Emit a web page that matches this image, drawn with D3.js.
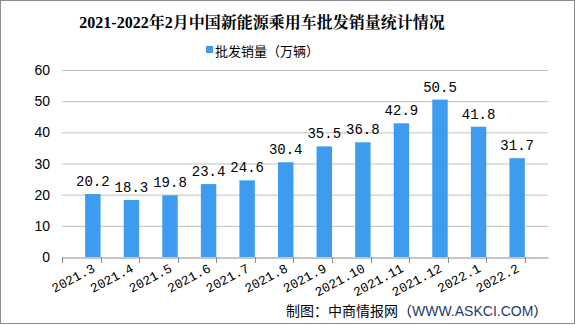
<!DOCTYPE html>
<html>
<head>
<meta charset="utf-8">
<script src="https://cdn.jsdelivr.net/npm/d3@7"></script>
<style>
body { margin: 0; background: #fff; }
svg { display: block; }
</style>
</head>
<body>
<svg class="mainsvg" width="575" height="325"></svg>
<script>
var months = ['2021.3', '2021.4', '2021.5', '2021.6', '2021.7', '2021.8', '2021.9', '2021.10', '2021.11', '2021.12', '2022.1', '2022.2'];
var sales = [20.2, 18.3, 19.8, 23.4, 24.6, 30.4, 35.5, 36.8, 42.9, 50.5, 41.8, 31.7];
var yTicks = [0, 10, 20, 30, 40, 50, 60];

var _width = 575, _height = 325;
var svg = d3.select('.mainsvg');

// frame
svg.append('rect')
	.attr('x', 0.5).attr('y', 0.5)
	.attr('width', _width - 1).attr('height', _height - 2)
	.attr('fill', 'white')
	.attr('stroke', '#8c8c8c');

var x = d3.scaleBand().domain(months).range([62, 548]).padding(0.6);
var y = d3.scaleLinear().domain([0, 60]).range([257, 70]);

// gridlines
svg.append('g')
	.selectAll('line')
	.data(yTicks.slice(1))
	.join('line')
	.attr('x1', 62).attr('x2', 548)
	.attr('y1', function(d){ return y(d) + 0.5; })
	.attr('y2', function(d){ return y(d) + 0.5; })
	.attr('stroke', '#bfbfbf');

// y labels
svg.append('g')
	.selectAll('text')
	.data(yTicks)
	.join('text')
	.attr('x', 50)
	.attr('y', function(d){ return y(d) + 5; })
	.attr('text-anchor', 'end')
	.attr('font-family', 'Liberation Sans, Arial, sans-serif')
	.attr('font-size', '14px')
	.attr('fill', '#000')
	.text(function(d){ return d; });

// bars
svg.append('g')
	.selectAll('rect')
	.data(sales)
	.join('rect')
	.attr('x', function(d, i){ return x(months[i]); })
	.attr('y', function(d){ return y(d); })
	.attr('width', x.bandwidth())
	.attr('height', function(d){ return y(0) - y(d); })
	.attr('fill', '#3d9cf0');

// value labels
svg.append('g')
	.selectAll('text')
	.data(sales)
	.join('text')
	.attr('x', function(d, i){ return x(months[i]) + x.bandwidth() / 2; })
	.attr('y', function(d){ return y(d) - 8; })
	.attr('text-anchor', 'middle')
	.attr('font-family', 'Liberation Mono, monospace')
	.attr('font-size', '14px')
	.attr('fill', '#000')
	.text(function(d){ return d.toFixed(1); });

// x axis
var xAxis = d3.axisBottom(x).tickSize(0).tickFormat('');
svg.append('g')
	.attr('transform', 'translate(0,' + (y(0) + 0.5) + ')')
	.call(xAxis)
	.call(function(g){ g.select('.domain').attr('stroke', '#8c8c8c'); });

var step = x.step();
svg.append('g')
	.selectAll('line')
	.data(d3.range(months.length + 1))
	.join('line')
	.attr('x1', function(i){ return Math.round(62 + i * step) + 0.5; })
	.attr('x2', function(i){ return Math.round(62 + i * step) + 0.5; })
	.attr('y1', y(0)).attr('y2', y(0) + 6)
	.attr('stroke', '#8c8c8c');

// x labels
svg.append('g')
	.selectAll('text')
	.data(months)
	.join('text')
	.attr('transform', function(d){
		return 'translate(' + (x(d) + x.bandwidth() / 2 + 3) + ',' + 271 + ') rotate(-28)';
	})
	.attr('text-anchor', 'end')
	.attr('font-family', 'Liberation Mono, monospace')
	.attr('font-size', '13px')
	.attr('fill', '#000')
	.text(function(d){ return d; });

// title
svg.append('text')
	.attr('x', 262)
	.attr('y', 28)
	.attr('text-anchor', 'middle')
	.attr('font-family', 'Liberation Serif, Noto Serif CJK SC, Noto Sans CJK SC, serif')
	.attr('font-size', '16px')
	.attr('font-weight', 'bold')
	.attr('fill', '#000')
	.text('2021-2022年2月中国新能源乘用车批发销量统计情况');

// legend
svg.append('rect')
	.attr('x', 206).attr('y', 46)
	.attr('width', 7).attr('height', 7)
	.attr('fill', '#3d9cf0');
svg.append('text')
	.attr('x', 215)
	.attr('y', 56)
	.attr('font-family', 'Noto Sans CJK SC, sans-serif')
	.attr('font-size', '13px')
	.attr('fill', '#000')
	.text('批发销量（万辆）');

// source
var src = svg.append('text')
	.attr('x', 286)
	.attr('y', 316)
	.attr('font-family', 'Noto Sans CJK SC, sans-serif')
	.attr('font-size', '14px')
	.attr('fill', '#000');
src.append('tspan').text('制图：中商情报网（');
src.append('tspan').attr('fill', '#1f3a6e').attr('font-family', 'Liberation Sans, Arial, sans-serif').text('WWW.ASKCI.COM');
src.append('tspan').text('）');
</script>
</body>
</html>
